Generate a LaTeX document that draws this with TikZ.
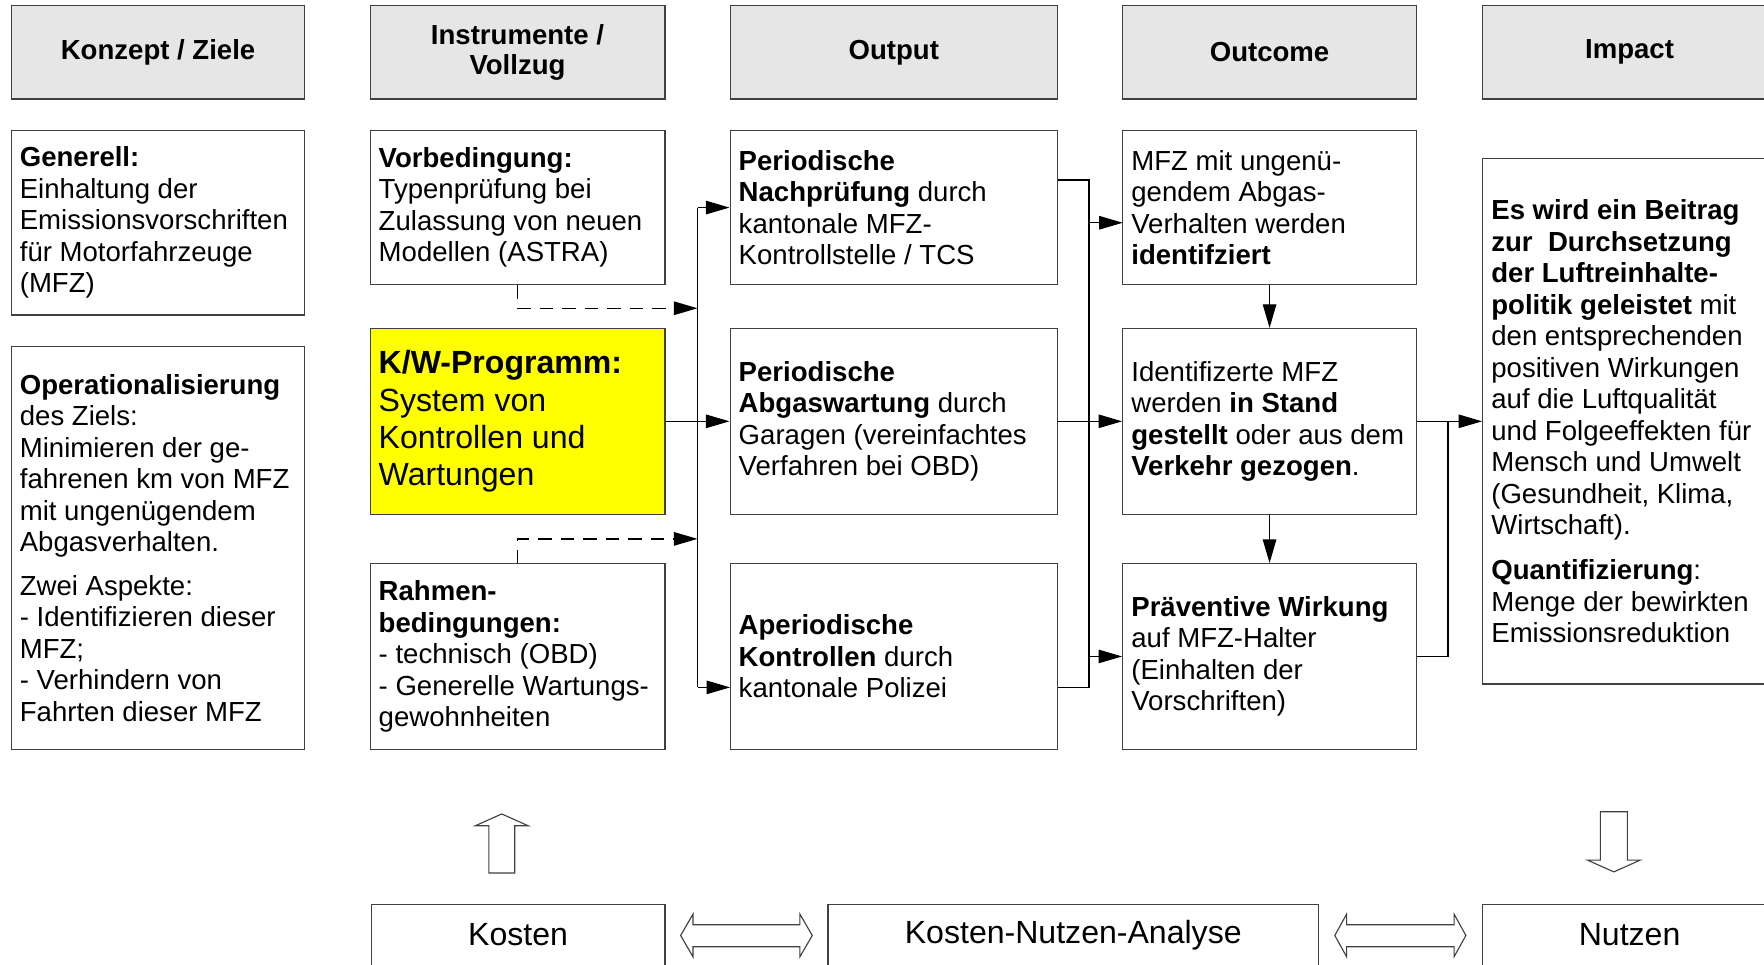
\documentclass[tikz,border=0pt]{standalone}
\usepackage{fontspec}
\setmainfont{Liberation Sans}
\usetikzlibrary{arrows.meta,calc}
\newcommand\fsn{\fontsize{24.5}{28}\selectfont}
\newcommand\fsh{\fontsize{24.5}{27}\selectfont\bfseries}
\newcommand\fsb{\fontsize{28.5}{33}\selectfont}
\definecolor{hdrgray}{HTML}{E6E6E6}
\definecolor{boxline}{HTML}{404040}
\definecolor{kwyellow}{HTML}{FFFF00}
\tikzset{
  box/.style={draw=boxline, line width=1.1pt, rectangle, inner sep=0pt, fill=white},
  hdr/.style={box, fill=hdrgray, align=center, font=\fsh},
  txt/.style={anchor=west, align=left, inner sep=0pt, font=\fsn},
  bigtxt/.style={inner sep=0pt, font=\fsb},
  conn/.style={draw=black, line width=1.1pt},
  arr/.style={conn, -{Triangle[length=21pt,width=12pt]}},
  dasharr/.style={arr, dash pattern=on 12pt off 8pt},
  blockarrow/.style={draw=boxline, line width=1pt, fill=white, line join=miter}
}
\begin{document}
\begin{tikzpicture}[x=1pt,y=-1pt]
\useasboundingbox (0,0) rectangle (1568,857);
\clip (0,0) rectangle (1568,857);
% headers
\node[hdr, minimum width=261, minimum height=83] (h1) at (140.5,46.5) {Konzept / Ziele};
\node[hdr, minimum width=262, minimum height=83] (h2) at (460,46.5) {Instrumente /\\Vollzug};
\node[hdr, minimum width=291, minimum height=83] (h3) at (794.5,46.5) {Output};
\node[hdr, minimum width=261, minimum height=83] (h4) at (1128.5,46.5) {Outcome};
\node[hdr, minimum width=261, minimum height=83] (h5) at (1448.5,46.5) {Impact};
% column 1
\node[box, minimum width=261, minimum height=164] (gen) at (140.5,198) {};
\node[txt] at ([xshift=8pt]gen.west) {\textbf{Generell:}\\Einhaltung der\\Emissionsvorschriften\\für Motorfahrzeuge\\(MFZ)};
\node[box, minimum width=261, minimum height=358] (op) at (140.5,487) {};
\node[txt] at ([xshift=8pt]op.west) {\textbf{Operationalisierung}\\des Ziels:\\Minimieren der ge-\\fahrenen km von MFZ\\mit ungenügendem\\Abgasverhalten.\\[11pt]Zwei Aspekte:\\- Identifizieren dieser\\MFZ;\\- Verhindern von\\Fahrten dieser MFZ};
% column 2
\node[box, minimum width=262, minimum height=137] (vor) at (460,184.5) {};
\node[txt] at ([xshift=8pt]vor.west) {\textbf{Vorbedingung:}\\Typenprüfung bei\\Zulassung von neuen\\Modellen (ASTRA)};
\node[box, fill=kwyellow, minimum width=262, minimum height=165] (kw) at (460,374.5) {};
\node[txt, font=\fsb] at ([xshift=8pt]kw.west) {\textbf{K/W-Programm:}\\System von\\Kontrollen und\\Wartungen};
\node[box, minimum width=262, minimum height=165] (rah) at (460,583.5) {};
\node[txt] at ([xshift=8pt]rah.west) {\textbf{Rahmen-}\\\textbf{bedingungen:}\\- technisch (OBD)\\- Generelle Wartungs-\\gewohnheiten};
% column 3
\node[box, minimum width=291, minimum height=137] (nach) at (794.5,184.5) {};
\node[txt] at ([xshift=8pt]nach.west) {\textbf{Periodische}\\\textbf{Nachprüfung} durch\\kantonale MFZ-\\Kontrollstelle / TCS};
\node[box, minimum width=291, minimum height=165] (wart) at (794.5,374.5) {};
\node[txt] at ([xshift=8pt]wart.west) {\textbf{Periodische}\\\textbf{Abgaswartung} durch\\Garagen (vereinfachtes\\Verfahren bei OBD)};
\node[box, minimum width=291, minimum height=165] (aper) at (794.5,583.5) {};
\node[txt] at ([xshift=8pt]aper.west) {\textbf{Aperiodische}\\\textbf{Kontrollen} durch\\kantonale Polizei};
% column 4
\node[box, minimum width=261, minimum height=137] (mfz) at (1128.5,184.5) {};
\node[txt] at ([xshift=8pt]mfz.west) {MFZ mit ungenü-\\gendem Abgas-\\Verhalten werden\\\textbf{identifziert}};
\node[box, minimum width=261, minimum height=165] (ident) at (1128.5,374.5) {};
\node[txt] at ([xshift=8pt]ident.west) {Identifizerte MFZ\\werden \textbf{in Stand}\\\textbf{gestellt} oder aus dem\\\textbf{Verkehr gezogen}.};
\node[box, minimum width=261, minimum height=165] (prae) at (1128.5,583.5) {};
\node[txt] at ([xshift=8pt]prae.west) {\textbf{Präventive Wirkung}\\auf MFZ-Halter\\(Einhalten der\\Vorschriften)};
% column 5
\node[box, minimum width=261, minimum height=467] (imp) at (1448.5,374.5) {};
\node[txt] at ([xshift=8pt]imp.west) {\textbf{Es wird ein Beitrag}\\\textbf{zur~~Durchsetzung}\\\textbf{der Luftreinhalte-}\\\textbf{politik geleistet} mit\\den entsprechenden\\positiven Wirkungen\\auf die Luftqualität\\und Folgeeffekten für\\Mensch und Umwelt\\(Gesundheit, Klima,\\Wirtschaft).\\[12pt]\textbf{Quantifizierung}:\\Menge der bewirkten\\Emissionsreduktion};
% bottom boxes
\node[box, minimum width=261, minimum height=72] (kos) at (460.5,840) {};
\node[bigtxt] at (460.5,831) {Kosten};
\node[box, minimum width=436, minimum height=72] (kna) at (954,840) {};
\node[bigtxt] at (954,831) {Kosten-Nutzen-Analyse};
\node[box, minimum width=261, minimum height=72] (nut) at (1448.5,840) {};
\node[bigtxt] at (1448.5,831) {Nutzen};
% coordinates
\coordinate (lbus) at (620,0);
\coordinate (rbus) at (968,0);
\coordinate (dV) at (620,274);
\coordinate (dR) at (620,479);
\coordinate (aIn) at (649,611);
\coordinate (nOut) at (940,160);
\coordinate (mIn) at (998,198);
\coordinate (jn) at (1287,374.5);
% dashed inputs
\draw[dasharr] (vor.south) |- (dV);
\draw[dasharr] (rah.north) |- (dR);
% left bus
\draw[conn] (lbus |- nach.west) -- (lbus |- aIn);
\draw[arr] (lbus |- nach.west) -- (nach.west);
\draw[arr] (kw.east) -- (wart.west);
\draw[arr] (lbus |- aIn) -- (aIn);
% right bus
\draw[conn] (nOut) -- (rbus |- nOut) -- (rbus |- aIn) -- (aper.east |- aIn);
\draw[arr] (rbus |- mIn) -- (mIn);
\draw[arr] (wart.east) -- (ident.west);
\draw[arr] (rbus |- prae.west) -- (prae.west);
% outcome chain
\draw[arr] (mfz.south) -- (ident.north);
\draw[arr] (ident.south) -- (prae.north);
\draw[arr] (ident.east) -- (imp.west);
\draw[conn] (prae.east) -| (jn);
% block arrows
\draw[blockarrow] (446,723.5) -- (469.5,734) -- (457.5,734) -- (457.5,776) -- (434.5,776) -- (434.5,734) -- (422.5,734) -- cycle;
\draw[blockarrow] (1422.5,721.5) -- (1446.5,721.5) -- (1446.5,764.5) -- (1458,764.5) -- (1434.5,775) -- (1411,764.5) -- (1422.5,764.5) -- cycle;
\draw[blockarrow] (605,831.5) -- (616,812.5) -- (616,822) -- (711,822) -- (711,812.5) -- (722,831.5) -- (711,850.5) -- (711,841.5) -- (616,841.5) -- (616,850.5) -- cycle;
\draw[blockarrow] (1186.5,831.5) -- (1197,812.5) -- (1197,822) -- (1292.5,822) -- (1292.5,812.5) -- (1303,831.5) -- (1292.5,850.5) -- (1292.5,841.5) -- (1197,841.5) -- (1197,850.5) -- cycle;
\end{tikzpicture}
\end{document}
